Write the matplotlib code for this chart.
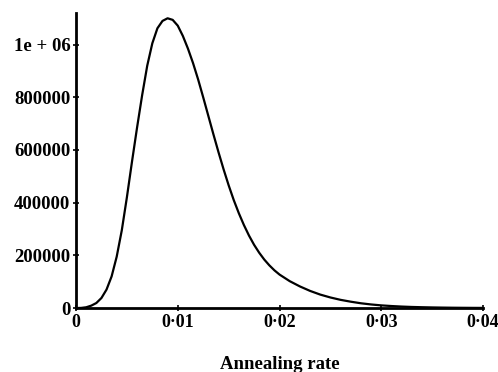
import matplotlib
matplotlib.use("Agg")
import matplotlib.pyplot as plt

# values
rate = [0, 0.0005, 0.001, 0.0015, 0.002, 0.0025, 0.003, 0.0035, 0.004,
        0.0045, 0.005, 0.0055, 0.006, 0.0065, 0.007, 0.0075, 0.008, 0.0085,
        0.009, 0.0095, 0.010, 0.0105, 0.011, 0.0115, 0.012, 0.0125, 0.013,
        0.0135, 0.014, 0.0145, 0.015, 0.0155, 0.016, 0.0165, 0.017, 0.0175,
        0.018, 0.0185, 0.019, 0.0195, 0.020, 0.021, 0.022, 0.023, 0.024,
        0.025, 0.026, 0.027, 0.028, 0.029, 0.030, 0.031, 0.032, 0.033,
        0.034, 0.035, 0.036, 0.037, 0.038, 0.039, 0.040]
value = [0, 400, 2800, 9000, 19000, 38000, 70000, 120000, 195000,
         295000, 420000, 555000, 685000, 808000, 920000, 1005000, 1062000, 1090000,
         1100000, 1094000, 1072000, 1033000, 985000, 930000, 868000, 800000, 730000,
         660000, 592000, 527000, 466000, 410000, 360000, 315000, 275000, 240000,
         210000, 184000, 162000, 143000, 127000, 102000, 82000, 65000, 51000,
         40000, 31000, 24000, 18000, 13500, 10000, 7500, 5500, 4000,
         3000, 2200, 1600, 1100, 800, 550, 400]

xticks = [0, 0.01, 0.02, 0.03, 0.04]
xticklabels = ["0", "0\u00b701", "0\u00b702", "0\u00b703", "0\u00b704"]
yticks = [0, 200000, 400000, 600000, 800000, 1000000]
yticklabels = ["0", "200000", "400000", "600000", "800000", "1e + 06"]

plt.rcParams['font.family'] = ['Liberation Serif', 'DejaVu Serif']

fig = plt.figure(figsize=(4.98, 3.72), dpi=100)
ax = fig.add_axes([0.1526, 0.172, 0.8174, 0.793])

ax.plot(rate, value, color='black', linewidth=1.6, solid_joinstyle='round')

ax.set_xlim(0, 0.04)
ax.set_ylim(0, 1120000)
ax.set_xticks(xticks)
ax.set_xticklabels(xticklabels, fontsize=13, fontweight='bold')
ax.set_yticks(yticks)
ax.set_yticklabels(yticklabels, fontsize=13.5, fontweight='bold')
ax.tick_params(direction='inout', length=4, width=1.2, pad=2)

for side in ['top', 'right']:
    ax.spines[side].set_visible(False)
for side in ['left', 'bottom']:
    ax.spines[side].set_linewidth(2)

ax.set_xlabel("Annealing rate", fontsize=13.5, fontweight='bold', labelpad=18)

fig.savefig("out.png", dpi=100)
